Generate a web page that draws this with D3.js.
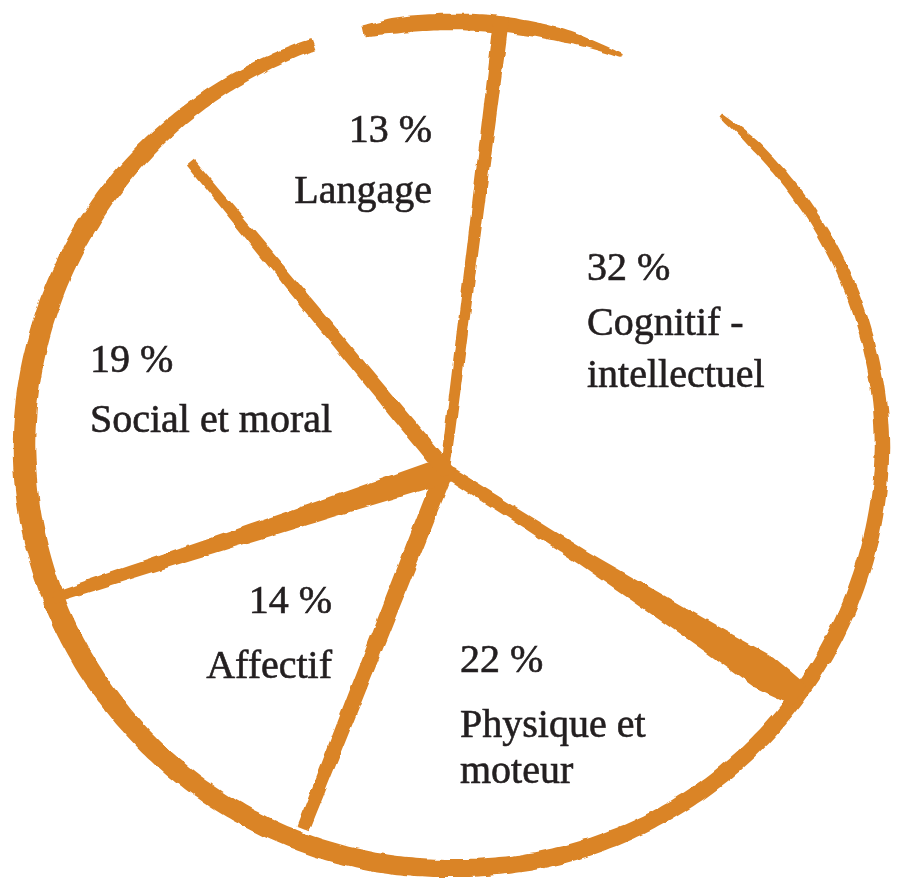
<!DOCTYPE html>
<meta charset="utf-8">
<style>

body {
  margin: 0;
  background: #fff;
}

text {
  font-family: "Liberation Serif", serif;
  font-size: 40px;
  fill: #231f20;
  stroke: #231f20;
  stroke-width: 0.6px;
}

</style>
<body>
    <div id="pie"></div>
</body>

<script src="https://cdn.jsdelivr.net/npm/d3@7"></script>
<script>

    // data, clockwise from the top
    var categories = ["Cognitif - intellectuel", "Physique et moteur", "Affectif", "Social et moral", "Langage"];
    var labelLines = [["Cognitif -", "intellectuel"], ["Physique et", "moteur"], ["Affectif"], ["Social et moral"], ["Langage"]];
    var values = [32, 22, 14, 19, 13];

    var width = 899,
            height = 888,
            cx = 452, cy = 447,      // centre of the drawn circle
            hubX = 445, hubY = 470,  // where the spokes meet
            orange = "#da8428";

    // where each label sits (percent line baseline, then name lines below)
    var labelPos = [
        {x: 587, y: 280, anchor: "start", gap: 55, lh: 52},
        {x: 460, y: 672, anchor: "start", gap: 65, lh: 46},
        {x: 332, y: 613, anchor: "end", gap: 65, lh: 46},
        {x: 90, y: 372, anchor: "start", gap: 60, lh: 46},
        {x: 432, y: 142, anchor: "end", gap: 61, lh: 46}
    ];

    // brush look of each spoke: width along the spoke, and how short it stops of the rim
    var spokeStyle = [
        {gap: -8, w: [[0, 10], [0.5, 12], [1, 15]]},
        {gap: 0, w: [[0, 12], [0.4, 15], [0.75, 28], [0.9, 36], [1, 24]]},
        {gap: 14, w: [[0, 18], [0.5, 16], [1, 13]]},
        {gap: 0, w: [[0, 26], [0.3, 20], [0.7, 14], [1, 11]]},
        {gap: 40, w: [[0, 16], [0.6, 13], [1, 9]]}
    ];

    var svg = d3.select("#pie").append("svg")
            .attr("width", width)
            .attr("height", height);

    // ragged edges like a brush stroke
    var filter = svg.append("defs").append("filter")
            .attr("id", "rough")
            .attr("filterUnits", "userSpaceOnUse")
            .attr("x", 0).attr("y", 0)
            .attr("width", width).attr("height", height);
    filter.append("feTurbulence")
            .attr("type", "fractalNoise")
            .attr("baseFrequency", 0.06)
            .attr("numOctaves", 2)
            .attr("seed", 3)
            .attr("result", "noise");
    filter.append("feDisplacementMap")
            .attr("in", "SourceGraphic")
            .attr("in2", "noise")
            .attr("scale", 5)
            .attr("xChannelSelector", "R")
            .attr("yChannelSelector", "G");

    var start = 0.125;
    var pie = d3.pie()
            .sort(null)
            .value(function(d) { return d; })
            .startAngle(start)
            .endAngle(start + 2 * Math.PI);
    var arcs = pie(values);

    var ink = svg.append("g")
            .attr("fill", orange)
            .attr("filter", "url(#rough)");

    // the outer circle, drawn in two strokes with gaps
    var rad = d3.scaleLinear()
            .domain([0, 90, 180, 270, 360])
            .range([425, 430, 421, 428, 425]);

    var ringParts = [
        d3.scaleLinear()
                .domain([39, 45, 70, 110, 160, 220, 265, 300, 330, 341])
                .range([4, 10, 13, 16, 17, 20, 23, 20, 14, 12]),
        d3.scaleLinear()
                .domain([348, 352, 365, 375, 383.5])
                .range([11, 16, 17, 13, 4])
    ];

    ringParts.forEach(function(w) {
        var dom = w.domain();
        var steps = d3.range(dom[0], dom[dom.length - 1], 1).concat(dom[dom.length - 1]);
        var area = d3.areaRadial()
                .angle(function(d) { return d * Math.PI / 180; })
                .innerRadius(function(d) { return rad(d % 360) - w(d) / 2; })
                .outerRadius(function(d) { return rad(d % 360) + w(d) / 2; })
                .curve(d3.curveCatmullRom);
        ink.append("path")
                .attr("class", "ring")
                .attr("transform", "translate(" + cx + "," + cy + ")")
                .attr("d", area(steps));
    });

    // spokes along the slice boundaries
    var outline = d3.line().curve(d3.curveLinearClosed);

    arcs.forEach(function(a, i) {
        var ang = a.startAngle,
                dx = Math.sin(ang), dy = -Math.cos(ang),
                ox = hubX - cx, oy = hubY - cy,
                deg = ((ang * 180 / Math.PI) % 360 + 360) % 360,
                R = rad(deg),
                b = ox * dx + oy * dy,
                len = -b + Math.sqrt(b * b - (ox * ox + oy * oy - R * R)) - spokeStyle[i].gap;

        var ws = d3.scaleLinear()
                .domain(spokeStyle[i].w.map(function(p) { return p[0]; }))
                .range(spokeStyle[i].w.map(function(p) { return p[1]; }));

        var left = [], right = [];
        d3.range(0, 1.0001, 0.05).forEach(function(f) {
            var t = -6 + f * (len + 6),
                    px = hubX + dx * t, py = hubY + dy * t,
                    hw = ws(f) / 2;
            left.push([px - dy * hw, py + dx * hw]);
            right.push([px + dy * hw, py - dx * hw]);
        });

        ink.append("path")
                .attr("class", "spoke")
                .attr("d", outline(left.concat(right.reverse())));
    });

    // labels
    var label = svg.selectAll(".label")
            .data(arcs)
            .enter().append("text")
            .attr("class", "label")
            .attr("text-anchor", function(d, i) { return labelPos[i].anchor; });

    label.append("tspan")
            .attr("x", function(d, i) { return labelPos[i].x; })
            .attr("y", function(d, i) { return labelPos[i].y; })
            .text(function(d) { return d.data + " %"; });

    label.each(function(d, i) {
        var p = labelPos[i];
        d3.select(this).selectAll(".name")
                .data(labelLines[i])
                .enter().append("tspan")
                .attr("class", "name")
                .attr("x", p.x)
                .attr("y", function(l, j) { return p.y + p.gap + j * p.lh; })
                .text(function(l) { return l; });
    });

</script>
